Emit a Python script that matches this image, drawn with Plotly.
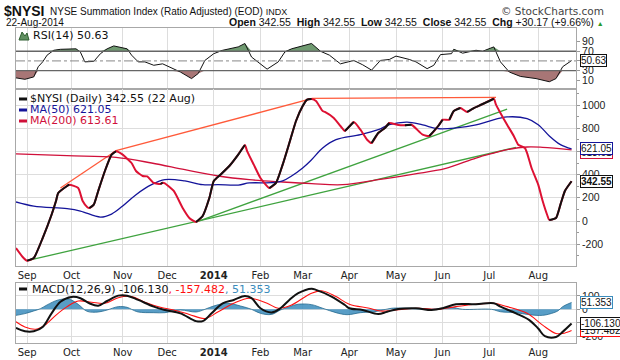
import plotly.graph_objects as go

# ---------------- data ----------------
nysi_dates = ["2013-08-26","2013-08-29","2013-09-03","2013-09-06","2013-09-12","2013-09-18","2013-09-20","2013-09-23",
              "2013-09-27","2013-09-30","2013-10-04","2013-10-08","2013-10-10","2013-10-11","2013-10-15","2013-10-17",
              "2013-10-22","2013-10-25","2013-10-29","2013-11-01","2013-11-07","2013-11-11","2013-11-14","2013-11-18",
              "2013-11-21","2013-11-26","2013-11-27","2013-11-29","2013-12-05","2013-12-11","2013-12-16","2013-12-19",
              "2013-12-24","2013-12-30","2014-01-02","2014-01-07","2014-01-13","2014-01-17","2014-01-23","2014-01-24",
              "2014-01-29","2014-02-03","2014-02-07","2014-02-12","2014-02-18","2014-02-21","2014-02-26","2014-03-03",
              "2014-03-05","2014-03-07","2014-03-11","2014-03-14","2014-03-17","2014-03-21","2014-03-26","2014-03-28",
              "2014-04-03","2014-04-08","2014-04-11","2014-04-15","2014-04-21","2014-04-24","2014-04-28","2014-05-02",
              "2014-05-07","2014-05-12","2014-05-19","2014-05-22","2014-05-29","2014-06-02","2014-06-05","2014-06-09",
              "2014-06-12","2014-06-17","2014-06-20","2014-06-25","2014-06-27","2014-07-03","2014-07-07","2014-07-09",
              "2014-07-14","2014-07-17","2014-07-21","2014-07-24","2014-07-25","2014-07-29","2014-08-01","2014-08-05",
              "2014-08-07","2014-08-08","2014-08-13","2014-08-15","2014-08-19","2014-08-22"]
nysi_vals = [-233,-310,-342,-319,-147,54,172,241,
             302,313,284,172,121,112,141,259,
             431,572,601,572,500,431,388,385,
             328,319,330,325,259,112,26,-9,
             43,198,345,399,474,572,655,603,
             486,371,284,328,486,672,862,991,
             1046,1052,1034,948,940,888,819,776,
             853,787,701,672,759,802,845,828,
             825,830,744,733,819,873,873,948,
             974,940,974,1000,1017,1054,1003,931,
             830,733,658,629,586,457,313,172,
             54,9,26,141,259,342.55]

ma50_dates = ["2013-08-26","2013-09-06","2013-09-27","2013-10-07","2013-10-18","2013-10-25","2013-11-01","2013-11-11",
              "2013-11-20","2013-11-29","2013-12-12","2013-12-24","2014-01-06","2014-01-17","2014-01-27","2014-02-10",
              "2014-02-18","2014-02-24","2014-03-03","2014-03-07","2014-03-14","2014-03-24","2014-04-08","2014-04-21",
              "2014-04-28","2014-05-08","2014-05-19","2014-05-29","2014-06-10","2014-06-23","2014-07-01","2014-07-14",
              "2014-07-25","2014-08-01","2014-08-08","2014-08-15","2014-08-22"]
ma50_vals = [164,129,106,86,34,60,129,227,
             313,356,345,313,313,310,328,330,
             345,388,457,528,629,701,744,787,
             830,853,828,796,802,828,862,897,
             882,830,733,658,621.05]

ma200_dates = ["2013-08-26","2013-09-27","2013-10-29","2013-11-20","2013-12-12","2014-01-06","2014-01-27","2014-02-18",
               "2014-03-07","2014-03-27","2014-04-21","2014-05-13","2014-06-03","2014-06-23","2014-07-03","2014-07-14",
               "2014-07-25","2014-08-05","2014-08-22"]
ma200_vals = [578,563,549,500,442,388,356,336,
              322,313,356,405,451,543,586,615,
              638,635,613.61]

rsi_dates = ["2013-08-26","2013-08-30","2013-09-06","2013-09-10","2013-09-12","2013-09-16","2013-09-19","2013-09-24",
             "2013-10-03","2013-10-07","2013-10-09","2013-10-15","2013-10-18","2013-10-23","2013-10-28","2013-11-05",
             "2013-11-07","2013-11-12","2013-11-15","2013-11-21","2013-11-27","2013-12-03","2013-12-10","2013-12-17",
             "2013-12-20","2013-12-26","2014-01-02","2014-01-08","2014-01-17","2014-01-23","2014-01-28","2014-02-06",
             "2014-02-13","2014-02-19","2014-02-24","2014-03-07","2014-03-13","2014-03-19","2014-03-26","2014-04-03",
             "2014-04-09","2014-04-15","2014-04-22","2014-04-28","2014-05-01","2014-05-09","2014-05-14","2014-05-21",
             "2014-05-27","2014-05-30","2014-06-06","2014-06-09","2014-06-13","2014-06-23","2014-06-26","2014-07-03",
             "2014-07-09","2014-07-15","2014-07-22","2014-07-31","2014-08-08","2014-08-13","2014-08-18","2014-08-22"]
rsi_vals = [15,12,17,38,48,62,72,74,
            75,68,48,49,65,75,81,75,
            62,48,48,41,44,38,27,13.5,
            24,51,65,72,79,86,58,33,
            48,68.5,75,86,70,62,44,51,
            42,31,51,53,60,53,48,34,
            41,63,65,74,66,72,70,79,
            48,27,18,13.5,7,13.5,38,50.63]

macd_dates = ["2013-08-26","2013-08-30","2013-09-06","2013-09-12","2013-09-18","2013-09-24","2013-10-01","2013-10-07",
              "2013-10-11","2013-10-17","2013-10-23","2013-10-30","2013-11-05","2013-11-12","2013-11-21","2013-11-29",
              "2013-12-10","2013-12-19","2013-12-24","2013-12-31","2014-01-08","2014-01-15","2014-01-23","2014-01-28",
              "2014-02-03","2014-02-10","2014-02-14","2014-02-21","2014-02-27","2014-03-07","2014-03-11","2014-03-20",
              "2014-03-28","2014-04-01","2014-04-09","2014-04-21","2014-04-25","2014-05-02","2014-05-14","2014-05-23",
              "2014-06-02","2014-06-10","2014-06-23","2014-07-03","2014-07-09","2014-07-18","2014-07-28","2014-08-01",
              "2014-08-06","2014-08-13","2014-08-18","2014-08-22"]
macd_vals = [-138,-163,-163,-131,-30,57,92,83,
             45,27,62,102,102,70,20,-5,
             -30,-88,-88,-30,45,70,100,83,
             8,-23,8,70,120,153,145,95,
             32,8,-5,-35,-18,2,8,-5,
             8,38,38,45,20,-30,-80,-143,
             -200,-206,-168,-106.130]

signal_dates = ["2013-08-26","2013-08-30","2013-09-09","2013-09-13","2013-09-20","2013-09-27","2013-10-04","2013-10-14",
                "2013-10-22","2013-10-30","2013-11-07","2013-11-15","2013-11-26","2013-12-05","2013-12-16","2013-12-26",
                "2014-01-06","2014-01-15","2014-01-27","2014-02-06","2014-02-13","2014-02-24","2014-03-07","2014-03-14",
                "2014-03-24","2014-04-01","2014-04-14","2014-04-22","2014-05-01","2014-05-15","2014-05-29","2014-06-10",
                "2014-06-23","2014-07-03","2014-07-14","2014-07-25","2014-08-05","2014-08-13","2014-08-18","2014-08-22"]
signal_vals = [-93,-131,-148,-118,-43,20,62,53,
               45,87,95,53,15,-5,-38,-68,
               -18,45,83,45,8,32,120,137,
               95,38,8,-13,-5,8,0,20,
               38,45,20,-30,-118,-180,-180,-157.482]

hist_dates = ["2013-08-26","2013-08-30","2013-09-06","2013-09-11","2013-09-16","2013-09-23","2013-09-30","2013-10-04",
              "2013-10-10","2013-10-17","2013-10-23","2013-10-30","2013-11-05","2013-11-07","2013-11-12","2013-11-21",
              "2013-11-29","2013-12-10","2013-12-19","2013-12-26","2014-01-02","2014-01-10","2014-01-21","2014-01-28",
              "2014-02-03","2014-02-10","2014-02-14","2014-02-21","2014-02-27","2014-03-07","2014-03-14","2014-03-24",
              "2014-03-31","2014-04-08","2014-04-16","2014-04-22","2014-04-29","2014-05-09","2014-05-21","2014-06-02",
              "2014-06-06","2014-06-13","2014-07-02","2014-07-09","2014-07-18","2014-07-28","2014-08-05","2014-08-12",
              "2014-08-14","2014-08-18","2014-08-22"]
hist_vals = [-45,-32,-12,5,33,70,75,37,
             -15,-20,-5,20,15,0,-20,-25,
             -25,-5,-20,0,25,45,25,0,
             -30,-38,-5,20,38,35,8,-25,
             -40,-25,-18,-10,8,8,0,8,
             15,0,0,-18,-25,-40,-45,-25,
             -10,20,51.353]

# trend lines drawn on the chart (start / end points)
orange_dates_1 = ["2013-09-24", "2013-10-29"]
orange_vals_1 = [284, 606]
orange_dates_2 = ["2013-10-29", "2014-03-07"]
orange_vals_2 = [606, 1054]
orange_dates_3 = ["2014-03-07", "2014-07-07"]
orange_vals_3 = [1058, 1065]
green_dates_1 = ["2013-09-03", "2014-07-18"]
green_vals_1 = [-342, 635]
green_dates_2 = ["2013-12-19", "2014-07-14"]
green_vals_2 = [-9, 965]

month_ticks = ["2013-09-03","2013-10-01","2013-11-01","2013-12-02","2014-01-02","2014-02-03",
               "2014-03-03","2014-04-01","2014-05-01","2014-06-02","2014-07-01","2014-08-01"]
month_labels = ["Sep","Oct","Nov","Dec","<b>2014</b>","Feb","Mar","Apr","May","Jun","Jul","Aug"]
holidays = ["2013-09-02","2013-11-28","2013-12-25","2014-01-01","2014-01-20","2014-02-17",
            "2014-04-18","2014-05-26","2014-07-04"]

# tick values; labels hidden behind the value tags are left blank
rsi_ticks = [10, 30, 50, 70, 90]
rsi_ticktext = ["10", "30", "", "70", "90"]
main_ticks = [-200, 0, 200, 400, 600, 800, 1000]
main_ticktext = ["-200", "0", "200", "400", "", "800", "1000"]
macd_ticks = [-200, -100, 0, 100]
macd_ticktext = ["-200", "", "0", "100"]

last_nysi, last_ma50, last_ma200 = 342.55, 621.05, 613.61
last_rsi = 50.63
last_macd, last_signal, last_hist = -106.130, -157.482, 51.353

# ---------------- layout helpers ----------------
W, H = 620, 360
L, R, T, B = 16, 44, 28, 17
PW, PH = W - L - R, H - T - B


def pxx(px):
    return (px - L) / PW


def pxy(py):
    return (H - B - py) / PH


RED = "#dd1133"
NAVY = "#14149a"
MA200C = "#d0103a"
ORANGE = "#ff5a3a"
GREEN = "#3fa33f"
STEEL = "#3b8cbc"
GRID = "#dddddd"
BORDER = "#a8a8a8"

fig = go.Figure()

# ---------------- RSI panel ----------------
fig.add_trace(go.Scatter(x=rsi_dates, y=[70] * len(rsi_dates), mode="lines",
                         line=dict(width=0), xaxis="x", yaxis="y", hoverinfo="skip"))
fig.add_trace(go.Scatter(x=rsi_dates, y=[max(v, 70) for v in rsi_vals], mode="lines",
                         line=dict(width=0), fill="tonexty", fillcolor="#6f9a70",
                         xaxis="x", yaxis="y", hoverinfo="skip"))
fig.add_trace(go.Scatter(x=rsi_dates, y=[30] * len(rsi_dates), mode="lines",
                         line=dict(width=0), xaxis="x", yaxis="y", hoverinfo="skip"))
fig.add_trace(go.Scatter(x=rsi_dates, y=[min(v, 30) for v in rsi_vals], mode="lines",
                         line=dict(width=0), fill="tonexty", fillcolor="#a87676",
                         xaxis="x", yaxis="y", hoverinfo="skip"))
fig.add_trace(go.Scatter(x=rsi_dates, y=rsi_vals, mode="lines",
                         line=dict(color="#111111", width=1), xaxis="x", yaxis="y"))

# ---------------- main panel ----------------
for dts, vals, col in [(orange_dates_1, orange_vals_1, ORANGE), (orange_dates_2, orange_vals_2, ORANGE),
                       (orange_dates_3, orange_vals_3, ORANGE),
                       (green_dates_1, green_vals_1, GREEN), (green_dates_2, green_vals_2, GREEN)]:
    fig.add_trace(go.Scatter(x=dts, y=vals, mode="lines", line=dict(color=col, width=1.3),
                             xaxis="x2", yaxis="y2"))

fig.add_trace(go.Scatter(x=ma200_dates, y=ma200_vals, mode="lines",
                         line=dict(color=MA200C, width=1.3, shape="spline"), xaxis="x2", yaxis="y2"))
fig.add_trace(go.Scatter(x=ma50_dates, y=ma50_vals, mode="lines",
                         line=dict(color=NAVY, width=1.3, shape="spline"), xaxis="x2", yaxis="y2"))

# NYSI: red when falling, black when rising
fig.add_trace(go.Scatter(x=nysi_dates, y=nysi_vals, mode="lines",
                         line=dict(color=RED, width=2, shape="spline", smoothing=0.5),
                         xaxis="x2", yaxis="y2"))
bx, by = [], []
i = 0
n = len(nysi_vals)
while i < n - 1:
    if nysi_vals[i + 1] > nysi_vals[i]:
        j = i
        while j < n - 1 and nysi_vals[j + 1] > nysi_vals[j]:
            j += 1
        bx += nysi_dates[i:j + 1] + [None]
        by += nysi_vals[i:j + 1] + [None]
        i = j
    else:
        i += 1
fig.add_trace(go.Scatter(x=bx, y=by, mode="lines", connectgaps=False,
                         line=dict(color="#111111", width=2, shape="spline", smoothing=0.5),
                         xaxis="x2", yaxis="y2"))

# ---------------- MACD panel ----------------
fig.add_trace(go.Scatter(x=hist_dates, y=hist_vals, mode="lines", fill="tozeroy",
                         fillcolor="rgba(59,140,188,0.85)",
                         line=dict(color="#25698f", width=0.8, shape="spline"),
                         xaxis="x3", yaxis="y3"))
fig.add_trace(go.Scatter(x=signal_dates, y=signal_vals, mode="lines",
                         line=dict(color="#ff1010", width=1.1, shape="spline"), xaxis="x3", yaxis="y3"))
fig.add_trace(go.Scatter(x=macd_dates, y=macd_vals, mode="lines",
                         line=dict(color="#111111", width=2, shape="spline"), xaxis="x3", yaxis="y3"))

# ---------------- axes ----------------
rb = [dict(bounds=["sat", "mon"]), dict(values=holidays)]
xrange_ = ["2013-08-26", "2014-08-26"]
xcommon = dict(type="date", range=xrange_, rangebreaks=rb, tickvals=month_ticks, ticktext=month_labels,
               showgrid=True, gridcolor=GRID, gridwidth=1, showline=True, mirror=True,
               linecolor=BORDER, linewidth=1, ticks="", zeroline=False, automargin=False,
               tickfont=dict(family="DejaVu Sans", size=10, color="#222222"))
ycommon = dict(side="right", showline=True, mirror=True, linecolor=BORDER, linewidth=1,
               ticks="outside", ticklen=3, tickcolor="#999999", zeroline=False, automargin=False,
               tickfont=dict(family="Liberation Sans", size=10.5, color="#222222"),
               gridcolor=GRID, gridwidth=1)

fig.update_layout(
    width=W, height=H, autosize=False,
    margin=dict(l=L, r=R, t=T, b=B, pad=0),
    paper_bgcolor="white", plot_bgcolor="white",
    showlegend=False,
    xaxis=dict(xcommon, anchor="y", showticklabels=False),
    xaxis2=dict(xcommon, anchor="y2", matches="x"),
    xaxis3=dict(xcommon, anchor="y3", matches="x"),
    yaxis=dict(ycommon, domain=[pxy(89), 1.0], range=[-8, 118], tickvals=rsi_ticks,
               ticktext=rsi_ticktext, showgrid=False),
    yaxis2=dict(ycommon, domain=[pxy(266), pxy(89)], range=[-388, 1138], tickvals=main_ticks,
                ticktext=main_ticktext, showgrid=True,
                minor=dict(ticks="outside", ticklen=2, dtick=100, tickcolor="#999999", showgrid=False)),
    yaxis3=dict(ycommon, domain=[0, pxy(282.5)], range=[-251, 200], tickvals=macd_ticks,
                ticktext=macd_ticktext, showgrid=True),
)

# RSI reference levels
fig.add_hline(y=70, line=dict(color="#666666", width=1.3), xref="x", yref="y")
fig.add_hline(y=30, line=dict(color="#666666", width=1.3), xref="x", yref="y")
fig.add_hline(y=50, line=dict(color="#888888", width=1, dash="dashdot"), xref="x", yref="y")

# ---------------- text ----------------
ann = []


def txt(text, px, py, size=10, family="DejaVu Sans", color="#111111", xanchor="left"):
    ann.append(dict(text=text, x=pxx(px), y=pxy(py), xref="paper", yref="paper", showarrow=False,
                    xanchor=xanchor, yanchor="middle", font=dict(family=family, size=size, color=color)))


# header
txt("<b>$NYSI</b>", 2, 11, size=14, family="Liberation Sans")
txt("NYSE Summation Index (Ratio Adjusted) (EOD) <span style='font-size:9px'>INDX</span>", 48, 12,
    size=10, family="Liberation Sans")
txt("© StockCharts.com", 606, 11, size=10.5, color="#444444", xanchor="right")
txt("22-Aug-2014", 4, 22, size=10, family="Liberation Sans")
txt("<b>Open</b> 342.55  <b>High</b> 342.55  <b>Low</b> 342.55  <b>Close</b> 342.55  <b>Chg</b> +30.17 (+9.66%) "
    "<span style='color:#2a9a2a;font-size:7px'>▲</span>",
    606, 22, size=10.5, family="Liberation Sans", xanchor="right")

# panel legends
txt("RSI(14) 50.63", 31, 35, size=11)
txt("$NYSI (Daily) 342.55 (22 Aug)", 28, 99, size=11, color="#111111")
txt("MA(50) 621.05", 28, 110, size=11, color=NAVY)
txt("MA(200) 613.61", 28, 121, size=11, color=MA200C)
txt("MACD(12,26,9) -106.130<span style='color:#ff1010'>, -157.482</span>"
    "<span style='color:#3b8cbc'>, 51.353</span>", 30, 289, size=11)

shapes = []
for py, col in [(99, "#111111"), (110, NAVY), (121, MA200C), (289, "#111111")]:
    shapes.append(dict(type="line", xref="paper", yref="paper", x0=pxx(19), x1=pxx(27),
                       y0=pxy(py), y1=pxy(py), line=dict(color=col, width=3)))
# small RSI icon
shapes.append(dict(type="path", xref="paper", yref="paper",
                   path=f"M {pxx(19)},{pxy(40)} L {pxx(22)},{pxy(32)} L {pxx(25)},{pxy(36)} "
                        f"L {pxx(27)},{pxy(33)} L {pxx(29)},{pxy(40)} Z",
                   fillcolor="#5f8f60", line=dict(color="#2f5f30", width=1)))

# right-side value tags


def tag(text, y, yref, border, bold=False):
    ann.append(dict(text=(f"<b>{text}</b>" if bold else text), x=1, y=y, xref="paper", yref=yref,
                    xanchor="left", yanchor="middle", xshift=4, showarrow=False,
                    bgcolor="white", bordercolor=border, borderwidth=1, borderpad=0,
                    font=dict(family="Liberation Sans", size=10, color="#111111")))


tag(f"{last_rsi:.2f}", last_rsi, "y", "#111111")
tag(f"{last_ma200:.2f}", last_ma200 - 20, "y2", MA200C)
tag(f"{last_ma50:.2f}", last_ma50, "y2", NAVY)
tag(f"{last_nysi:.2f}", last_nysi, "y2", "#111111", bold=True)
tag(f"{last_hist:.3f}", last_hist, "y3", STEEL)
tag(f"{last_signal:.3f}", last_signal, "y3", "#ff1010")
tag(f"{last_macd:.3f}", last_macd, "y3", "#111111")

fig.update_layout(annotations=ann, shapes=list(fig.layout.shapes) + shapes)

fig.write_html("out.html", config={"displayModeBar": False},
               post_script="document.body.style.margin='0';document.body.style.overflow='hidden';")
